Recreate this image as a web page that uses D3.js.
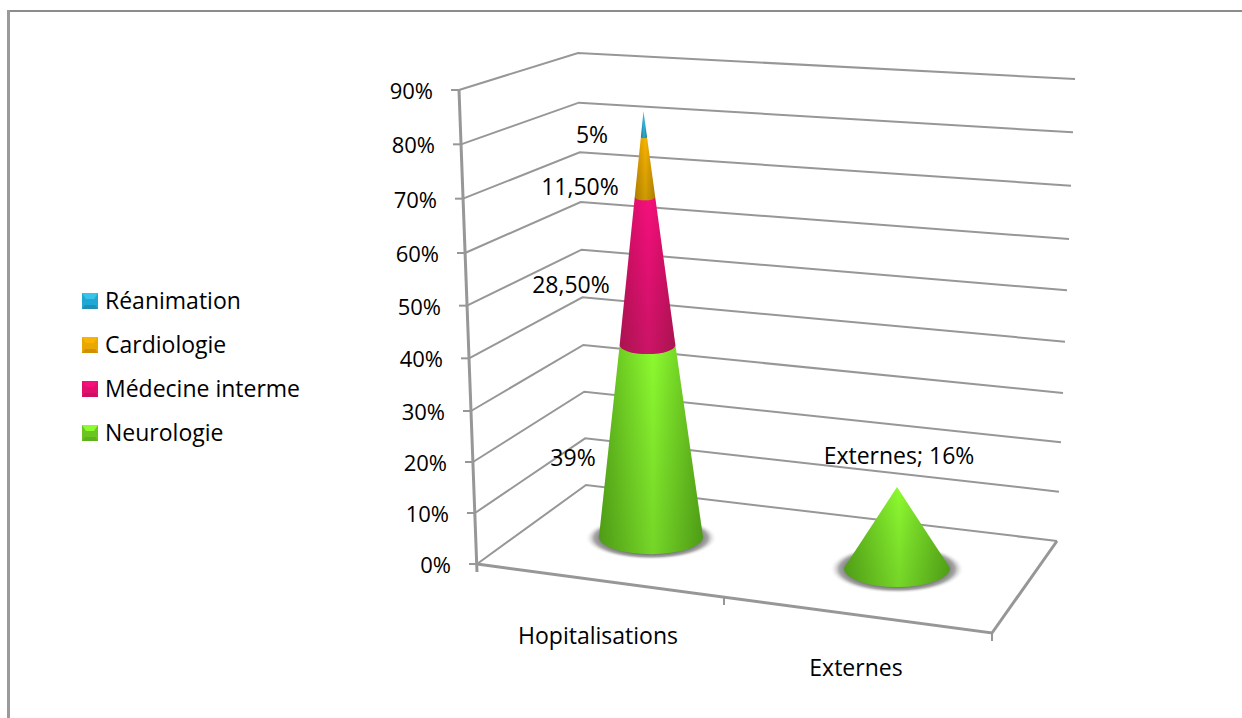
<!DOCTYPE html>
<html>
<head>
<meta charset="utf-8">
<title>Hopitalisations / Externes</title>
<script src="https://cdnjs.cloudflare.com/ajax/libs/d3/7.8.5/d3.min.js"></script>
<style>
	html, body { margin: 0; padding: 0; background: #fff; }
	svg { display: block; }
	text { font-family: "Open Sans", Lato, sans-serif; font-size: 23px; fill: #000; }
	.grid { fill: none; stroke: #979797; stroke-width: 2; }
	.floor { fill: none; stroke: #979797; stroke-width: 3; }
</style>
</head>
<body>
<div id="content"></div>
<script>
var categories = ["Hopitalisations", "Externes"];
var services = ["Neurologie", "Médecine interme", "Cardiologie", "Réanimation"];
var neurologie = [39, 16];
var medecine = [28.5, 0];
var cardiologie = [11.5, 0];
var reanimation = [5, 0];
var yTicks = [0, 10, 20, 30, 40, 50, 60, 70, 80, 90];

var legendOrder = ["Réanimation", "Cardiologie", "Médecine interme", "Neurologie"];

var colors = {
	"Neurologie":       {edge: "#5cb31a", mid: "#8dfb30", swatch: "#6bc41f"},
	"Médecine interme": {edge: "#cc0f60", mid: "#f5107c", swatch: "#e0106c"},
	"Cardiologie":      {edge: "#d09002", mid: "#f8b400", swatch: "#e8a800"},
	"Réanimation":      {edge: "#1f8fb8", mid: "#38c4ea", swatch: "#20a8d4"}
};

var width = 1242, height = 718;

var svg = d3.select("#content").append("svg")
	.attr("width", width).attr("height", height);

var defs = svg.append("defs");

// horizontal shading of the cones, one per service
services.forEach(function (s, i) {
	var g = defs.append("linearGradient").attr("id", "cone" + i);
	g.append("stop").attr("offset", "0").attr("stop-color", colors[s].edge);
	g.append("stop").attr("offset", "0.52").attr("stop-color", colors[s].mid);
	g.append("stop").attr("offset", "1").attr("stop-color", colors[s].edge);
});

var dark = defs.append("linearGradient").attr("id", "coneDark")
	.attr("x1", 0).attr("x2", 0).attr("y1", 0).attr("y2", 1);
dark.append("stop").attr("offset", "0").attr("stop-color", "#000").attr("stop-opacity", 0);
dark.append("stop").attr("offset", "1").attr("stop-color", "#0a2a00").attr("stop-opacity", 0.18);

var shadow = defs.append("radialGradient").attr("id", "baseShadow");
shadow.append("stop").attr("offset", "0.7").attr("stop-color", "#666");
shadow.append("stop").attr("offset", "0.86").attr("stop-color", "#a8a8a8");
shadow.append("stop").attr("offset", "1").attr("stop-color", "#fff").attr("stop-opacity", 0);

// sheet border, top and left only
svg.append("rect").attr("x", 7).attr("y", 10).attr("width", width - 7).attr("height", 2).attr("fill", "#8c8c8c");
svg.append("rect").attr("x", 7).attr("y", 10).attr("width", 3).attr("height", height - 10).attr("fill", "#9a9a9a");

// the walls are in perspective so each edge has its own scales
var frontX = d3.scaleLinear().domain([0, 90]).range([477, 459]);
var frontY = d3.scaleLinear().domain([0, 30, 60, 90]).range([564, 411, 253, 90]);
var backX = d3.scaleLinear().domain([0, 90]).range([586, 578]);
var backY = d3.scaleLinear().domain([0, 30, 60, 90]).range([485, 345, 202, 53]);
var rightX = d3.scaleLinear().domain([0, 90]).range([1057, 1075]);
var rightY = d3.scaleLinear().domain([0, 30, 60, 90]).range([541, 393, 239, 79]);

var grid = svg.append("g");

grid.selectAll("path.side").data(yTicks).enter().append("path")
	.attr("class", "grid side")
	.attr("d", function (d) {
		return d3.line()([[frontX(d), frontY(d)], [backX(d), backY(d)], [rightX(d), rightY(d)]]);
	});

// floor front and right edges
var frontRight = [992, 633];
grid.append("path").attr("class", "floor")
	.attr("d", d3.line()([[frontX(0), frontY(0)], frontRight, [rightX(0), rightY(0)]]));

// category axis ticks along the front edge, foreshortened towards the far end
var floorX = d3.scaleLinear().domain([0, 1, 2]).range([frontX(0), 724, frontRight[0]]);
var floorY = d3.scaleLinear().domain([frontX(0), frontRight[0]]).range([frontY(0), frontRight[1]]);
grid.selectAll("line.ftick").data([0, 1, 2]).enter().append("line")
	.attr("class", "grid ftick")
	.attr("x1", function (d) { return floorX(d); })
	.attr("x2", function (d) { return floorX(d); })
	.attr("y1", function (d) { return floorY(floorX(d)); })
	.attr("y2", function (d) { return floorY(floorX(d)) + 8; });

// value axis, every tick slides along the slanted edge
var yAxis = d3.axisLeft(frontY).tickValues(yTicks).tickSize(8).tickPadding(18)
	.tickFormat(function (d) { return d + "%"; });
var yg = svg.append("g").call(yAxis);
yg.select(".domain").remove();
yg.selectAll(".tick").attr("transform", function (d) {
	return "translate(" + frontX(d) + "," + frontY(d) + ")";
});
yg.selectAll(".tick line").attr("stroke", "#979797").attr("stroke-width", 2);
yg.selectAll(".tick text").attr("dy", "0.37em")
	.attr("y", 1).style("font-size", "22px").style("font-family", "'Open Sans'");
yg.append("path").attr("class", "floor")
	.attr("d", d3.line()([[frontX(90), frontY(90)], [frontX(0), frontY(0) + 8]]));

// cones
var table = categories.map(function (c, i) {
	return {
		category: c,
		"Neurologie": neurologie[i],
		"Médecine interme": medecine[i],
		"Cardiologie": cardiologie[i],
		"Réanimation": reanimation[i]
	};
});
var stacked = d3.stack().keys(services)(table);

// height scales of the two cones, the first one is leaning slightly
var coneY = [
	d3.scaleLinear().domain([0, 40, 90]).range([537, 340, 80]),
	d3.scaleLinear().domain([0, 90]).range([568, 113])
];
var coneX = [
	d3.scaleLinear().domain([0, 84]).range([651, 643.5]),
	d3.scaleLinear().domain([0, 16]).range([897, 897])
];
var coneR = [52, 53];
var coneSquash = [0.33, 0.36];
var totals = table.map(function (row) {
	return d3.sum(services, function (s) { return row[s]; });
});

var radius = function (c, v) {
	return d3.scaleLinear().domain([0, totals[c]]).range([coneR[c], 0])(v);
};

var cones = svg.append("g");

categories.forEach(function (cat, c) {
	var r = coneR[c];
	cones.append("ellipse")
		.attr("cx", coneX[c](0)).attr("cy", coneY[c](0) + 1)
		.attr("rx", r * 1.27).attr("ry", r * coneSquash[c] * 1.28)
		.attr("fill", "url(#baseShadow)");
});

var slicePath = function (c, d) {
	var r0 = radius(c, d[0]), r1 = radius(c, d[1]);
	var ry = r0 * coneSquash[c];
	var x0 = coneX[c](d[0]), x1 = coneX[c](d[1]);
	var y0 = coneY[c](d[0]), y1 = coneY[c](d[1]);
	return "M" + (x1 - r1) + "," + y1 +
		"L" + (x0 - r0) + "," + y0 +
		"A" + r0 + "," + ry + " 0 0 0 " + (x0 + r0) + "," + y0 +
		"L" + (x1 + r1) + "," + y1 + "Z";
};

stacked.forEach(function (layer, i) {
	layer.forEach(function (d, c) {
		if (d[1] - d[0] <= 0) return;
		cones.append("path").attr("d", slicePath(c, d)).attr("fill", "url(#cone" + i + ")");
		cones.append("path").attr("d", slicePath(c, d)).attr("fill", "url(#coneDark)");
	});
});

// data labels
var pct = function (v) {
	return Number.isInteger(v) ? v + "%" : v.toFixed(2).replace(".", ",") + "%";
};
var labelX = {"Neurologie": 573, "Médecine interme": 571, "Cardiologie": 580, "Réanimation": 592};
var labelY = {"Neurologie": 458, "Médecine interme": 285, "Cardiologie": 187, "Réanimation": 135};

svg.append("g").selectAll("text").data(services).enter().append("text")
	.attr("x", function (s) { return labelX[s]; })
	.attr("y", function (s) { return labelY[s]; })
	.attr("dy", "0.35em").attr("text-anchor", "middle")
	.text(function (s) { return pct(table[0][s]); });

svg.append("text").attr("x", 899).attr("y", 456).attr("dy", "0.35em").attr("text-anchor", "middle")
	.text(categories[1] + "; " + pct(neurologie[1]));

// category names
var catX = d3.scaleOrdinal().domain(categories).range([598, 856]);
var catY = d3.scaleOrdinal().domain(categories).range([636, 668]);
svg.append("g").selectAll("text").data(categories).enter().append("text")
	.attr("x", function (d) { return catX(d); })
	.attr("y", function (d) { return catY(d); })
	.attr("dy", "0.35em").attr("text-anchor", "middle")
	.text(function (d) { return d; });

// legend, small bevelled squares
var legendY = d3.scalePoint().domain(legendOrder).range([301, 433]);
var legend = svg.append("g").selectAll("g").data(legendOrder).enter().append("g")
	.attr("transform", function (d) { return "translate(82," + (legendY(d) - 8) + ")"; });

legend.append("rect").attr("width", 16).attr("height", 16)
	.attr("fill", function (d) { return colors[d].swatch; });
legend.append("path").attr("d", "M0,0L16,0L12,6L4,6Z")
	.attr("fill", function (d) { return colors[d].mid; });
legend.append("path").attr("d", "M0,16L16,16L13,12L3,12Z")
	.attr("fill", function (d) { return colors[d].edge; });
legend.append("text").attr("x", 23).attr("y", 8).attr("dy", "0.35em")
	.text(function (d) { return d; });
</script>
</body>
</html>
